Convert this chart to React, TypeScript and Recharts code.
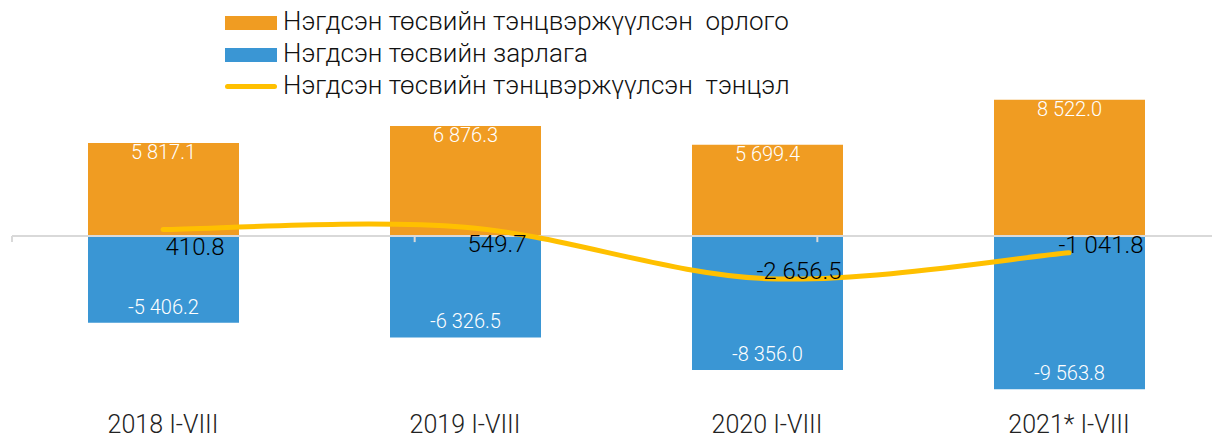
import React from "react";
import {
  Bar,
  ComposedChart,
  LabelList,
  Line,
  ReferenceLine,
  XAxis,
  YAxis,
} from "recharts";

const categories = ["2018 I-VIII", "2019 I-VIII", "2020 I-VIII", "2021* I-VIII"];
const revenue = [5817.1, 6876.3, 5699.4, 8522.0];
const expenditure = [-5406.2, -6326.5, -8356.0, -9563.8];
const balance = [410.8, 549.7, -2656.5, -1041.8];

const seriesNames = [
  "Нэгдсэн төсвийн тэнцвэржүүлсэн  орлого",
  "Нэгдсэн төсвийн зарлага",
  "Нэгдсэн төсвийн тэнцвэржүүлсэн  тэнцэл",
];

const ORANGE = "#f09c22";
const BLUE = "#3a96d4";
const YELLOW = "#ffc000";
const FONT = "Roboto, 'Noto Sans', sans-serif";

const data = categories.map((c, i) => ({
  name: c,
  revenue: revenue[i],
  expenditure: expenditure[i],
  balance: balance[i],
}));

// ticks on the zero line: every half category
const halfTicks = Array.from({ length: categories.length * 2 + 1 }, (_, i) => i);

const fmt = (v: number) => {
  const s = Math.abs(v).toFixed(1);
  const [int, dec] = s.split(".");
  const grouped = int.replace(/\B(?=(\d{3})+(?!\d))/g, " ");
  return (v < 0 ? "-" : "") + grouped + "." + dec;
};

// Excel-like smoothed line (bezier, control points at 1/6 of neighbour span)
const excelCurve = (context: any) => {
  let pts: number[][] = [];
  return {
    areaStart() {},
    areaEnd() {},
    lineStart() {
      pts = [];
    },
    point(x: number, y: number) {
      pts.push([+x, +y]);
    },
    lineEnd() {
      if (!pts.length) return;
      context.moveTo(pts[0][0], pts[0][1]);
      for (let i = 0; i < pts.length - 1; i++) {
        const p0 = pts[i - 1] || pts[i];
        const p1 = pts[i];
        const p2 = pts[i + 1];
        const p3 = pts[i + 2] || pts[i + 1];
        context.bezierCurveTo(
          p1[0] + (p2[0] - p0[0]) / 6,
          p1[1] + (p2[1] - p0[1]) / 6,
          p2[0] - (p3[0] - p1[0]) / 6,
          p2[1] - (p3[1] - p1[1]) / 6,
          p2[0],
          p2[1]
        );
      }
    },
  };
};

const BalanceLabel = (props: any) => {
  const { x, y, value } = props;
  return (
    <text
      x={x + 32}
      y={y + (value >= 0 ? 17 : -8)}
      textAnchor="middle"
      dominantBaseline="central"
      fontSize={24}
      fontWeight={300}
      fontFamily={FONT}
      fill="#000"
    >
      {fmt(value)}
    </text>
  );
};

const BarLabel = (props: any) => {
  const { x, y, width, height, value } = props;
  const top = Math.min(y, y + height);
  const bottom = Math.max(y, y + height);
  const ty = value >= 0 ? top + 16 : bottom - 9;
  return (
    <text
      x={x + width / 2}
      y={ty}
      textAnchor="middle"
      fontSize={20}
      fontWeight={300}
      fontFamily={FONT}
      fill="#fff"
    >
      {fmt(value)}
    </text>
  );
};

function Legend() {
  const row = (i: number) => (
    <div key={i} style={{ display: "flex", alignItems: "center", height: 32 }}>
      <div
        style={{
          width: 52,
          height: i < 2 ? 14 : 5,
          borderRadius: i < 2 ? 0 : 3,
          background: [ORANGE, BLUE, YELLOW][i],
          marginRight: 6,
          marginTop: 3,
        }}
      />
      <span style={{ whiteSpace: "pre", fontSize: 26, fontWeight: 300, color: "#111" }}>
        {seriesNames[i]}
      </span>
    </div>
  );
  return (
    <div style={{ position: "absolute", left: 225, top: 5, fontFamily: FONT }}>
      {[0, 1, 2].map(row)}
    </div>
  );
}

export default function App() {
  return (
    <div style={{ position: "relative", width: 1220, height: 443, margin: -8 }}>
      <ComposedChart
        width={1220}
        height={443}
        data={data}
        stackOffset="sign"
        margin={{ top: 92, right: 0, bottom: 0, left: 12 }}
      >
        <XAxis
          dataKey="name"
          height={50}
          axisLine={false}
          tickLine={false}
          tickSize={0}
          tickMargin={22}
          tick={{ fontSize: 25, fontWeight: 300, fill: "#222", fontFamily: FONT }}
          interval={0}
        />
        <XAxis xAxisId="half" type="number" domain={[0, halfTicks.length - 1]} hide />
        <YAxis hide domain={[-9800, 9000]} />
        <Bar dataKey="revenue" stackId="a" fill={ORANGE} barSize={151} isAnimationActive={false}>
          <LabelList dataKey="revenue" content={BarLabel} />
        </Bar>
        <Bar dataKey="expenditure" stackId="a" fill={BLUE} barSize={151} isAnimationActive={false}>
          <LabelList dataKey="expenditure" content={BarLabel} />
        </Bar>
        <ReferenceLine y={0} stroke="#d9d9d9" strokeWidth={2} />
        {halfTicks.map((t) => (
          <ReferenceLine
            key={t}
            xAxisId="half"
            segment={[
              { x: t, y: 0 },
              { x: t, y: -375 },
            ]}
            stroke="#d9d9d9"
            strokeWidth={2}
          />
        ))}
        <Line
          dataKey="balance"
          type={excelCurve as any}
          stroke={YELLOW}
          strokeWidth={5}
          strokeLinecap="round"
          dot={false}
          activeDot={false}
          isAnimationActive={false}
        >
          <LabelList dataKey="balance" content={BalanceLabel} />
        </Line>
      </ComposedChart>
      <Legend />
    </div>
  );
}
